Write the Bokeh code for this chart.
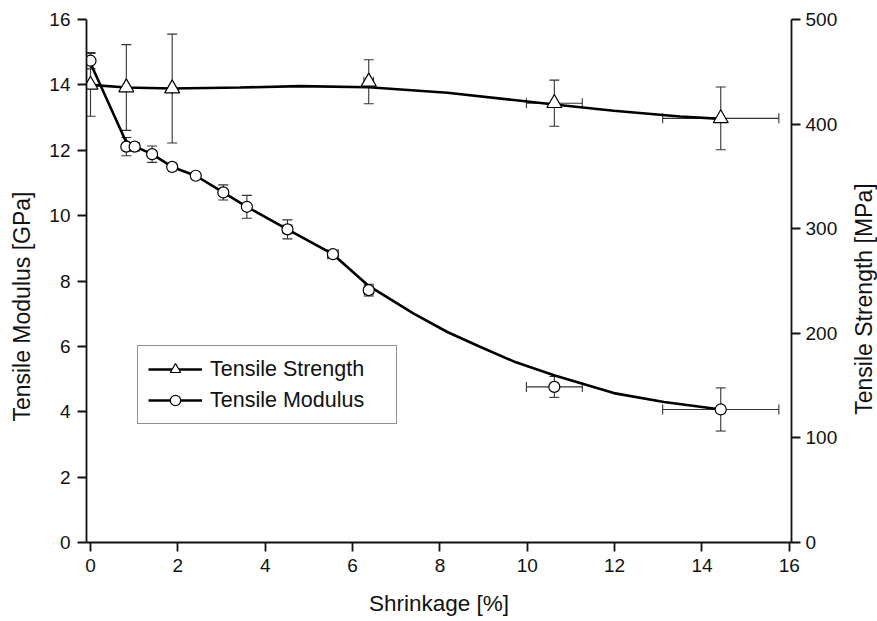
import math
from bokeh.plotting import figure
from bokeh.layouts import row
from bokeh.models import (Range1d, LinearAxis, FixedTicker, Whisker, TeeHead, ColumnDataSource,
                          Legend, LegendItem, Label)
from bokeh.embed import file_html
from bokeh.resources import INLINE

# ---- data ----
mod_x = [0.0, 0.82, 1.01, 1.41, 1.87, 2.41, 3.04, 3.58, 4.51, 5.55, 6.37, 10.62, 14.43]
mod_y = [14.74, 12.11, 12.11, 11.88, 11.49, 11.22, 10.71, 10.27, 9.58, 8.82, 7.72, 4.76, 4.07]
mod_yerr = [0.25, 0.28, 0.12, 0.25, 0.08, 0.08, 0.23, 0.35, 0.29, 0.12, 0.18, 0.32, 0.66]
mod_xerr = [0.0, 0.06, 0.1, 0.06, 0.08, 0.06, 0.05, 0.05, 0.1, 0.12, 0.1, 0.64, 1.33]

str_x = [0.0, 0.82, 1.87, 6.37, 10.62, 14.43]
str_y = [437.5, 435.0, 434.0, 440.5, 420.0, 405.5]
str_yerr = [30, 41, 52, 21, 22, 30]
str_xerr = [0.0, 0.0, 0.0, 0.11, 0.64, 1.33]

# fitted curves
mod_fit_x = [0.0, 0.80, 1.01, 1.41, 1.87, 2.41, 3.04, 3.58, 4.51, 5.55, 6.37, 7.40, 8.17, 8.93, 9.69, 10.63, 11.98, 13.13, 14.44]
mod_fit_y = [14.66, 12.30, 12.12, 11.88, 11.49, 11.22, 10.71, 10.27, 9.58, 8.82, 7.85, 7.00, 6.44, 5.98, 5.54, 5.11, 4.57, 4.30, 4.07]
str_fit_x = [0.0, 0.82, 1.87, 3.43, 4.8, 6.37, 8.17, 9.69, 10.62, 11.98, 13.5, 14.44]
str_fit_y = [437.5, 435.0, 434.0, 435.0, 436.3, 435.3, 430.0, 423.0, 418.8, 412.8, 407.2, 405.0]

x_ticks = [0, 2, 4, 6, 8, 10, 12, 14, 16]
left_ticks = [0, 2, 4, 6, 8, 10, 12, 14, 16]
right_ticks = [0, 100, 200, 300, 400, 500]

FONT = "Liberation Sans"
NB = "\u00a0"
SIDE_W = 32

p = figure(width=877 - SIDE_W, height=621, output_backend="svg", toolbar_location=None,
           x_range=Range1d(-0.092, 16.05), y_range=Range1d(0, 16),
           min_border_left=86, min_border_right=86 - SIDE_W, min_border_top=19, min_border_bottom=79)
p.outline_line_color = None
p.xgrid.grid_line_color = None
p.ygrid.grid_line_color = None
p.background_fill_color = "white"
p.border_fill_color = "white"
p.extra_y_ranges = {"strength": Range1d(0, 500)}

right = LinearAxis(y_range_name="strength")
p.add_layout(right, "right")

for ax in [p.xaxis[0], p.yaxis[0], right]:
    ax.axis_line_width = 1.8
    ax.axis_line_color = "#111111"
    ax.major_tick_line_width = 1.8
    ax.major_tick_line_color = "#111111"
    ax.major_tick_in = 0
    ax.major_tick_out = 9
    ax.minor_tick_line_color = None
    ax.major_label_text_font = FONT
    ax.major_label_text_font_size = "19px"
    ax.major_label_text_color = "#111111"
    ax.axis_label_text_font = FONT
    ax.axis_label_text_font_size = "23px"
    ax.axis_label_text_font_style = "normal"
    ax.axis_label_text_color = "#111111"

p.xaxis[0].ticker = FixedTicker(ticks=x_ticks)
p.yaxis[0].ticker = FixedTicker(ticks=left_ticks)
right.ticker = FixedTicker(ticks=right_ticks)
p.xaxis[0].major_label_standoff = 7
p.yaxis[0].major_label_standoff = 7
right.major_label_standoff = 5

p.xaxis[0].axis_label = "Shrinkage [%]"
p.xaxis[0].axis_label_text_font_size = "22.5px"
p.xaxis[0].axis_label_standoff = 16

p.yaxis[0].axis_label = "Tensile Modulus [GPa]" + NB * 8
p.yaxis[0].axis_label_standoff = 11

# error bars
msrc = ColumnDataSource(dict(x=mod_x, y=mod_y,
                             yl=[a - b for a, b in zip(mod_y, mod_yerr)],
                             yu=[a + b for a, b in zip(mod_y, mod_yerr)],
                             xl=[a - b for a, b in zip(mod_x, mod_xerr)],
                             xu=[a + b for a, b in zip(mod_x, mod_xerr)]))
ssrc = ColumnDataSource(dict(x=str_x, y=str_y,
                             yl=[a - b for a, b in zip(str_y, str_yerr)],
                             yu=[a + b for a, b in zip(str_y, str_yerr)],
                             xl=[a - b for a, b in zip(str_x, str_xerr)],
                             xu=[a + b for a, b in zip(str_x, str_xerr)]))

EC = "#333333"
def head():
    return TeeHead(size=10, line_color=EC, line_width=1.1)

p.add_layout(Whisker(source=msrc, base="x", lower="yl", upper="yu", dimension="height",
                     line_color=EC, line_width=1.1, upper_head=head(), lower_head=head()))
p.add_layout(Whisker(source=msrc, base="y", lower="xl", upper="xu", dimension="width",
                     line_color=EC, line_width=1.1, upper_head=head(), lower_head=head()))
p.add_layout(Whisker(source=ssrc, base="x", lower="yl", upper="yu", dimension="height",
                     line_color=EC, line_width=1.1, upper_head=head(), lower_head=head(),
                     y_range_name="strength"))
p.add_layout(Whisker(source=ssrc, base="y", lower="xl", upper="xu", dimension="width",
                     line_color=EC, line_width=1.1, upper_head=head(), lower_head=head(),
                     y_range_name="strength"))

# curves
sl = p.line(str_fit_x, str_fit_y, line_color="black", line_width=2.6, y_range_name="strength")
ml = p.line(mod_fit_x, mod_fit_y, line_color="black", line_width=2.6)

# markers
sm = p.scatter("x", "y", source=ssrc, marker="triangle", size=15, fill_color="white",
               line_color="black", line_width=1.2, y_range_name="strength")
mm = p.scatter("x", "y", source=msrc, marker="circle", size=11, fill_color="white",
               line_color="black", line_width=1.2)

legend = Legend(items=[LegendItem(label="Tensile Strength", renderers=[sl, sm]),
                       LegendItem(label="Tensile Modulus", renderers=[ml, mm])],
                location=(51, 118), orientation="vertical",
                label_text_font=FONT, label_text_font_size="21.5px", label_text_color="#111111",
                glyph_width=54, glyph_height=26, label_height=26, label_width=176,
                label_standoff=8, spacing=5, padding=10, margin=0,
                border_line_color="#222222", border_line_width=1.2,
                background_fill_color="white", background_fill_alpha=1.0)
p.add_layout(legend, "center")

# narrow strip on the right carrying the right-axis title (reads bottom to top)
side = figure(width=SIDE_W, height=621, output_backend="svg", toolbar_location=None,
              x_range=Range1d(0, SIDE_W), y_range=Range1d(0, 621),
              min_border=0, min_border_left=0, min_border_right=0,
              min_border_top=0, min_border_bottom=0)
side.axis.visible = False
side.grid.visible = False
side.outline_line_color = None
side.background_fill_color = "white"
side.border_fill_color = "white"
side.add_layout(Label(x=18, y=289, text="Tensile Strength [MPa]", angle=math.pi / 2,
                      text_align="center", text_baseline="middle", text_font=FONT,
                      text_font_size="23px", text_color="#111111"))

layout = row(p, side, spacing=0)
open("out.html", "w").write(file_html(layout, INLINE))
